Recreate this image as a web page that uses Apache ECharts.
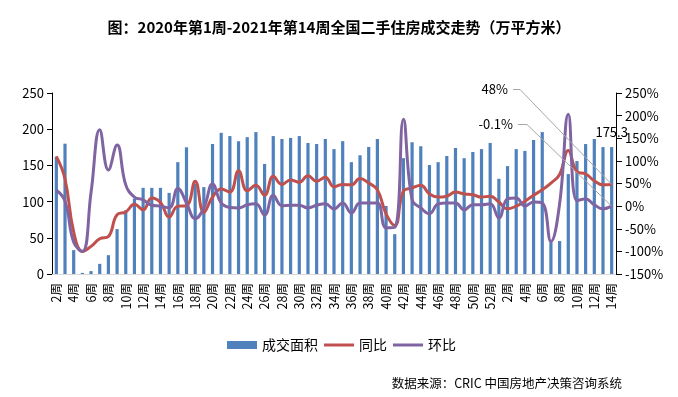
<!DOCTYPE html>
<html><head><meta charset="utf-8">
<script src="https://cdn.jsdelivr.net/npm/echarts@6/dist/echarts.min.js"></script>
<style>html,body{margin:0;padding:0;background:#fff}#c{width:678px;height:397px}</style>
</head><body><div id="c"></div>
<script>
const categories = ['2周','3周','4周','5周','6周','7周','8周','9周','10周','11周','12周','13周','14周','15周','16周','17周','18周','19周','20周','21周','22周','23周','24周','25周','26周','27周','28周','29周','30周','31周','32周','33周','34周','35周','36周','37周','38周','39周','40周','41周','42周','43周','44周','45周','46周','47周','48周','49周','50周','51周','52周','1周','2周','3周','4周','5周','6周','7周','8周','9周','10周','11周','12周','13周','14周'];
const area = [162,180,33,1.5,4,14,26,62,88,104,119,119,119,112,154.5,175,125,120,179.5,195,190.5,183.5,189,196,152,190.5,186.5,188,190.5,181,179.5,186.5,172.5,183.5,154.5,164,175.5,186.5,94,55,160,182,176.5,150.5,154.5,163,174,160,168.5,172.5,181,131.5,149,172.5,170,185,196,44,45.5,138,156,179.5,186.5,175.3,175.3];
const yoy = [110,60,-57,-100,-89,-72,-67,-19,-13,4,-8,18,8,-24,0,1,55,-14,20,38,31,78,34,46,24,66,48,58,53,67,55,64,43,48,47,61,51,36,-17,-43,33,40,46,27,20,22,31,27,25,20,22,9,-6,0,11,24,36,51,70,123,76,71,56,47,48];
const mom = [35,11,-80,-100,30,169,80,135,47,20,14,2,0,-4,39,7,-28,-4,49,7,-3,-4,3,5,-20,24,1,2,2,-4,2,5,-6,7,-15,7,7,7,-48,-47,192,14,-4,-17,5,7,7,-8,3,3,5,-26,16,18,0,9,7,-78,5,203,12,16,3,-6,-0.1];
const seriesNames = ['成交面积','同比','环比'];
const titleText = '图：2020年第1周-2021年第14周全国二手住房成交走势（万平方米）';
const sourceText = '数据来源：CRIC 中国房地产决策咨询系统';

const FONT = '"Noto Sans CJK SC", "DejaVu Sans", sans-serif';
const chart = echarts.init(document.getElementById('c'), null, {renderer: 'canvas'});
const last = area.length - 1;
const barData = area.map((v, i) => i === last ? {value: v, label: {show: true}} : v);
const LINE_ICON = 'path://M0,0L30,0L30,3L0,3Z';

const option = {
  animation: false,
  backgroundColor: '#fff',
  title: {
    text: titleText, left: 'center', top: 15,
    textStyle: {fontFamily: FONT, fontSize: 15, fontWeight: 'bold', color: '#000'}
  },
  legend: {
    data: [
      {name: seriesNames[0], icon: 'rect'},
      {name: seriesNames[1], icon: LINE_ICON},
      {name: seriesNames[2], icon: LINE_ICON}
    ],
    left: 227, top: 338, padding: 0, itemWidth: 30, itemHeight: 8, itemGap: 6, symbolKeepAspect: true,
    textStyle: {fontFamily: FONT, fontSize: 14, color: '#000'}
  },
  grid: {left: 52, right: 62, top: 93, bottom: 123, containLabel: false, outerBoundsMode: 'none'},
  xAxis: {
    type: 'category', data: categories, boundaryGap: true,
    axisLine: {lineStyle: {color: '#d9d9d9', width: 1}},
    axisTick: {show: false},
    axisLabel: {rotate: 90, interval: 1, margin: 9, color: '#000', fontFamily: FONT, fontSize: 12.5}
  },
  yAxis: [
    {
      type: 'value', min: 0, max: 250, interval: 50,
      axisLine: {show: true, lineStyle: {color: '#000'}},
      axisTick: {show: true, length: 5, lineStyle: {color: '#000'}},
      splitLine: {show: false},
      axisLabel: {color: '#000', fontFamily: FONT, fontSize: 13, margin: 8}
    },
    {
      type: 'value', min: -150, max: 250, interval: 50, position: 'right',
      axisLine: {show: true, lineStyle: {color: '#000'}},
      axisTick: {show: true, length: 6, lineStyle: {color: '#000'}},
      splitLine: {show: false},
      axisLabel: {color: '#000', fontFamily: FONT, fontSize: 13, margin: 9, formatter: '{value}%'}
    }
  ],
  series: [
    {
      name: seriesNames[0], type: 'bar', data: barData, barWidth: 3.2,
      itemStyle: {color: '#4F81BD'},
      label: {show: false, position: 'top', distance: 9, color: '#000', fontFamily: FONT, fontSize: 13}
    },
    {
      name: seriesNames[1], type: 'line', yAxisIndex: 1, data: yoy, smooth: 0.45,
      symbol: 'none', lineStyle: {color: '#C0504D', width: 3}, itemStyle: {color: '#C0504D'}
    },
    {
      name: seriesNames[2], type: 'line', yAxisIndex: 1, data: mom, smooth: 0.45,
      symbol: 'none', lineStyle: {color: '#8064A2', width: 3}, itemStyle: {color: '#8064A2'}
    }
  ]
};
chart.setOption(option);

const pRed = chart.convertToPixel({xAxisIndex: 0, yAxisIndex: 1}, [last, yoy[last]]);
const pPur = chart.convertToPixel({xAxisIndex: 0, yAxisIndex: 1}, [last, mom[last]]);
const lineStyle = {stroke: '#a6a6a6', lineWidth: 1, fill: null};
chart.setOption({
  graphic: [
    {type: 'polyline', shape: {points: [[513, 89.5], [520, 89.5], pRed]}, style: lineStyle, z: 10},
    {type: 'text', x: 508, y: 89.5, style: {text: yoy[last] + '%', fill: '#000', font: '13px ' + FONT, textAlign: 'right', textVerticalAlign: 'middle'}, z: 10},
    {type: 'polyline', shape: {points: [[518, 124.5], [527, 124.5], pPur]}, style: lineStyle, z: 10},
    {type: 'text', x: 513, y: 124.5, style: {text: mom[last] + '%', fill: '#000', font: '13px ' + FONT, textAlign: 'right', textVerticalAlign: 'middle'}, z: 10},
    {type: 'text', x: 622, y: 383, style: {text: sourceText, fill: '#000', font: '12.5px ' + FONT, textAlign: 'right', textVerticalAlign: 'middle'}}
  ]
});
</script></body></html>
